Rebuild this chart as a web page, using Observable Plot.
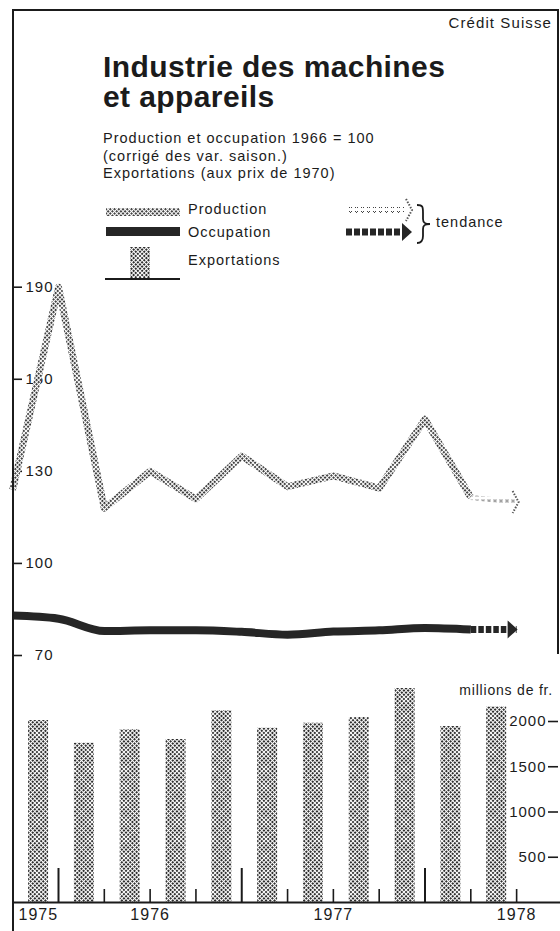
<!DOCTYPE html>
<html><head><meta charset="utf-8">
<script src="https://cdn.jsdelivr.net/npm/d3@7"></script>
<script src="https://cdn.jsdelivr.net/npm/@observablehq/plot@0.6"></script>
<style>
html,body{margin:0;padding:0;background:#fff;}
#page{position:relative;width:560px;height:931px;overflow:hidden;font-family:"Liberation Sans",Arial,Helvetica,sans-serif;color:#1b1b1b;}
#page svg text{letter-spacing:1px;}
.abs{position:absolute;}
.ln{position:absolute;background:#1b1b1b;}
</style></head><body>
<div id="page">
<svg width="0" height="0" style="position:absolute;left:0;top:0">
  <defs>
    <pattern id="prodPat" patternUnits="userSpaceOnUse" width="3" height="3" patternTransform="rotate(45)">
      <rect width="3" height="3" fill="#fff"/>
      <rect width="1.9" height="1.9" fill="#2e2e2e"/>
    </pattern>
    <pattern id="barPat" patternUnits="userSpaceOnUse" width="3" height="3" patternTransform="rotate(45)">
      <rect width="3" height="3" fill="#fff"/>
      <rect width="2" height="2" fill="#2e2e2e"/>
    </pattern>
    <pattern id="trendPat" patternUnits="userSpaceOnUse" width="6" height="6">
      <rect width="6" height="6" fill="#fff"/>
      <path d="M1,1L4,4M4,1L1,4" stroke="#444" stroke-width="1"/>
    </pattern>
  </defs>
</svg>

<svg id="hdr" class="abs" width="560" height="931" style="left:0;top:0;pointer-events:none">
  <g fill="#1b1b1b">
    <text x="552" y="28" text-anchor="end" font-size="15" style="letter-spacing:1.1px">Crédit Suisse</text>
    <text x="103" y="77" font-size="30" font-weight="bold" style="letter-spacing:0.4px">Industrie des machines</text>
    <text x="103" y="107" font-size="30" font-weight="bold" style="letter-spacing:0.4px">et appareils</text>
    <text x="103" y="143" font-size="14.5">Production et occupation 1966 = 100</text>
    <text x="103" y="160.5" font-size="14.5">(corrigé des var. saison.)</text>
    <text x="103" y="178" font-size="14.5">Exportations (aux prix de 1970)</text>
    <text x="188" y="213.5" font-size="14.5">Production</text>
    <text x="188" y="237" font-size="14.5">Occupation</text>
    <text x="188" y="264.5" font-size="14.5">Exportations</text>
    <text x="436" y="227" font-size="14.5">tendance</text>
    <text x="553" y="695" text-anchor="end" font-size="14" style="letter-spacing:0.8px">millions de fr.</text>
  </g>
  <rect x="106" y="208" width="74" height="8" fill="url(#prodPat)"/>
  <rect x="106" y="227" width="74" height="9" fill="#262626"/>
  <rect x="130" y="247" width="20" height="31" fill="url(#barPat)"/>
  <line x1="105" x2="180" y1="279" y2="279" stroke="#1b1b1b" stroke-width="2"/>
  <rect x="346" y="207" width="58" height="6" fill="url(#trendPat)"/>
  <path d="M406,199L412,210L406,221" fill="none" stroke="#555" stroke-width="2" stroke-dasharray="1.5,1.5"/>
  <line x1="346" x2="403" y1="232" y2="232" stroke="#262626" stroke-width="7" stroke-dasharray="6,2"/>
  <path d="M402,223L412,232L402,241Z" fill="#262626"/>
  <path d="M417,205C423,205 423,207 423,213L423,219C423,223 425,224 430,224C425,224 423,225 423,229L423,236C423,241 421,243 417,243" fill="none" stroke="#1b1b1b" stroke-width="1.8"/>
</svg>

<div id="top" class="abs" style="left:0;top:270px"></div>
<div id="bot" class="abs" style="left:0;top:670px"></div>

<div class="ln" style="left:12px;top:9px;width:2px;height:922px"></div>
<div class="ln" style="left:12px;top:9px;width:547px;height:1.5px"></div>
<div class="ln" style="left:557px;top:9px;width:1.5px;height:645px"></div>
</div>

<script>
// ---- data ----
// index points (quarter boundaries, in decimal years)
const pointDates = [1975.75, 1976.0, 1976.25, 1976.5, 1976.75, 1977.0, 1977.25, 1977.5, 1977.75, 1978.0, 1978.25];
const production = [124, 190, 118, 130, 121, 135, 125, 128.5, 124.5, 147, 121.5];
const occupation = [83, 82, 78, 78.2, 78.2, 77.7, 76.8, 77.8, 78.2, 79, 78.5];
// trend continuation
const trendDates = [1978.25, 1978.5];
const productionTrend = [121.5, 120];
const occupationTrend = [78.5, 78.5];
// quarterly exports (quarter midpoints), millions de fr.
const exportDates = [1975.875, 1976.125, 1976.375, 1976.625, 1976.875, 1977.125, 1977.375, 1977.625, 1977.875, 1978.125, 1978.375];
const exportsVal = [2010, 1760, 1910, 1800, 2120, 1925, 1980, 2045, 2365, 1945, 2160];
// ticks and labels
const indexTicks = [70, 100, 130, 160, 190];
const exportTicks = [500, 1000, 1500, 2000];
const yearTicks = [1976, 1977, 1978];
const quarterTicks = [1976.25, 1976.5, 1976.75, 1977.25, 1977.5, 1977.75, 1978.25, 1978.5];
const firstYearLabel = [1975];
const yearLabels = [1976, 1977, 1978];

const prodRows = pointDates.map((d, i) => ({date: d, value: production[i]}));
const occRows = pointDates.map((d, i) => ({date: d, value: occupation[i]}));
const prodTrendRows = trendDates.map((d, i) => ({date: d, value: productionTrend[i]}));
const occTrendRows = trendDates.map((d, i) => ({date: d, value: occupationTrend[i]}));
const expRows = exportDates.map((d, i) => ({date: d, value: exportsVal[i]}));

const ink = "#1b1b1b";
const font = "Liberation Sans, Arial, Helvetica, sans-serif";
const xScale = {domain: [1976, 1978], range: [58, 424.5]};

const arrowSolid = {draw(ctx) { ctx.moveTo(-5, -9); ctx.lineTo(5, 0); ctx.lineTo(-5, 9); ctx.closePath(); }};
const arrowOpen = {draw(ctx) { ctx.moveTo(-3, -11); ctx.lineTo(3, 0); ctx.lineTo(-3, 11); }};

const topPlot = Plot.plot({
  width: 560, height: 400,
  marginLeft: 13, marginRight: 3, marginTop: 0, marginBottom: 0,
  style: {background: "transparent", fontFamily: font, fontSize: "15px", color: ink, overflow: "visible"},
  x: {...xScale, axis: null},
  y: {domain: [70, 190], range: [385, 16.7]},
  marks: [
    Plot.axisY({ticks: indexTicks, anchor: "left", tickSize: -9, tickPadding: -3, textAnchor: "start",
      tickFormat: d => d < 100 ? "\u2007" + d : String(d), label: null, fontSize: 15, strokeWidth: 1.6}),
    Plot.line(occRows, {x: "date", y: "value", stroke: "#262626", strokeWidth: 8, curve: "monotone-x", strokeLinejoin: "round", strokeLinecap: "butt"}),
    Plot.line(occTrendRows, {x: "date", y: "value", stroke: "#262626", strokeWidth: 7, strokeDasharray: "5.5,2", strokeLinecap: "butt"}),
    Plot.dot(occTrendRows.slice(-1), {x: "date", y: "value", symbol: arrowSolid, fill: "#262626", stroke: null, dx: -4}),
    Plot.line(prodRows, {x: "date", y: "value", stroke: "url(#prodPat)", strokeWidth: 7, strokeLinejoin: "round", strokeLinecap: "butt"}),
    Plot.line(prodTrendRows, {x: "date", y: "value", stroke: "url(#trendPat)", strokeWidth: 5, strokeLinecap: "butt"}),
    Plot.dot(prodTrendRows.slice(-1), {x: "date", y: "value", symbol: arrowOpen, fill: "none", stroke: "#555", strokeWidth: 2, strokeDasharray: "1.5,1.5", dx: -1})
  ]
});
document.getElementById("top").appendChild(topPlot);

const botPlot = Plot.plot({
  width: 560, height: 261,
  marginLeft: 13, marginRight: 3, marginTop: 0, marginBottom: 29,
  style: {background: "transparent", fontFamily: font, fontSize: "15px", color: ink, overflow: "visible"},
  x: {...xScale, axis: null},
  y: {domain: [0, 2000], range: [232, 51]},
  marks: [
    Plot.ruleX(expRows, {x: "date", y1: 0, y2: "value", stroke: "url(#barPat)", strokeWidth: 20, dx: 2.5}),
    Plot.ruleY([0], {stroke: ink, strokeWidth: 2, insetRight: -3}),
    Plot.axisX({ticks: yearTicks, tickSize: -34, tickFormat: () => "", label: null, strokeWidth: 2}),
    Plot.axisX({ticks: quarterTicks, tickSize: -13, tickFormat: () => "", label: null, strokeWidth: 1.6}),
    Plot.axisY({ticks: exportTicks, anchor: "right", tickSize: -10, tickPadding: -1, textAnchor: "end",
      tickFormat: d => String(d), label: null, fontSize: 15, strokeWidth: 1.6}),
    Plot.text(yearLabels, {x: d => d + 0.5, frameAnchor: "bottom", dy: 17.5, text: d => String(d), fontSize: 16}),
    Plot.text(firstYearLabel, {frameAnchor: "bottom-left", textAnchor: "start", dx: 5, dy: 17.5, text: d => String(d), fontSize: 16})
  ]
});
document.getElementById("bot").appendChild(botPlot);
</script>
</body></html>
